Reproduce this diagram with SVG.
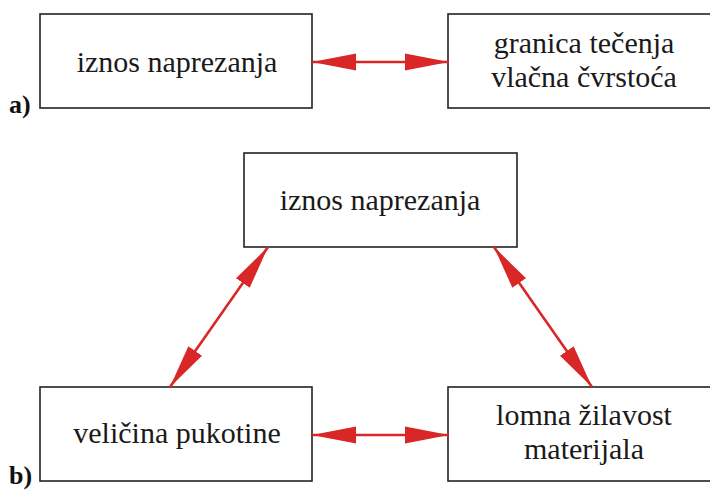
<svg xmlns="http://www.w3.org/2000/svg" width="710" height="491" viewBox="0 0 710 491">
<style>
.box{fill:#fff;stroke:#222;stroke-width:1.6}
.c{stroke:#d92626;stroke-width:2.6;fill:none;marker-start:url(#ah);marker-end:url(#ah)}
</style>
<defs>
<marker id="ah" markerUnits="userSpaceOnUse" markerWidth="44" markerHeight="18" refX="42" refY="8" orient="auto-start-reverse" viewBox="0 0 42 16">
<path d="M0,0 L42,8 L0,16 Z" fill="#d92626"/>
</marker>
</defs>
<rect width="710" height="491" fill="#fff"/>
<g font-family="Liberation Serif" font-size="26" font-weight="bold" fill="#111">
<text x="9" y="113">a)</text>
<text x="9" y="484">b)</text>
</g>
<g font-family="Liberation Serif" font-size="30" fill="#1a1a1a" text-anchor="middle">
<g id="a-iznos">
<rect class="box" x="40" y="14" width="272" height="94"/>
<text x="177" y="72">iznos naprezanja</text>
</g>
<g id="a-granica">
<rect class="box" x="448" y="14" width="272" height="94"/>
<text x="584" y="53">granica tečenja</text>
<text x="584" y="87">vlačna čvrstoća</text>
</g>
<g id="b-iznos">
<rect class="box" x="244" y="153" width="273" height="94"/>
<text x="380" y="210">iznos naprezanja</text>
</g>
<g id="b-velicina">
<rect class="box" x="40" y="387" width="272" height="94"/>
<text x="177" y="443">veličina pukotine</text>
</g>
<g id="b-lomna">
<rect class="box" x="448" y="387" width="272" height="94"/>
<text x="584" y="425">lomna žilavost</text>
<text x="584" y="459">materijala</text>
</g>
</g>
<g id="connectors">
<path class="c" d="M312,62 L449,62"/>
<path class="c" d="M312,435 L449,435"/>
<path class="c" d="M268,247 L170,387"/>
<path class="c" d="M494,247 L592,387"/>
</g>
</svg>
